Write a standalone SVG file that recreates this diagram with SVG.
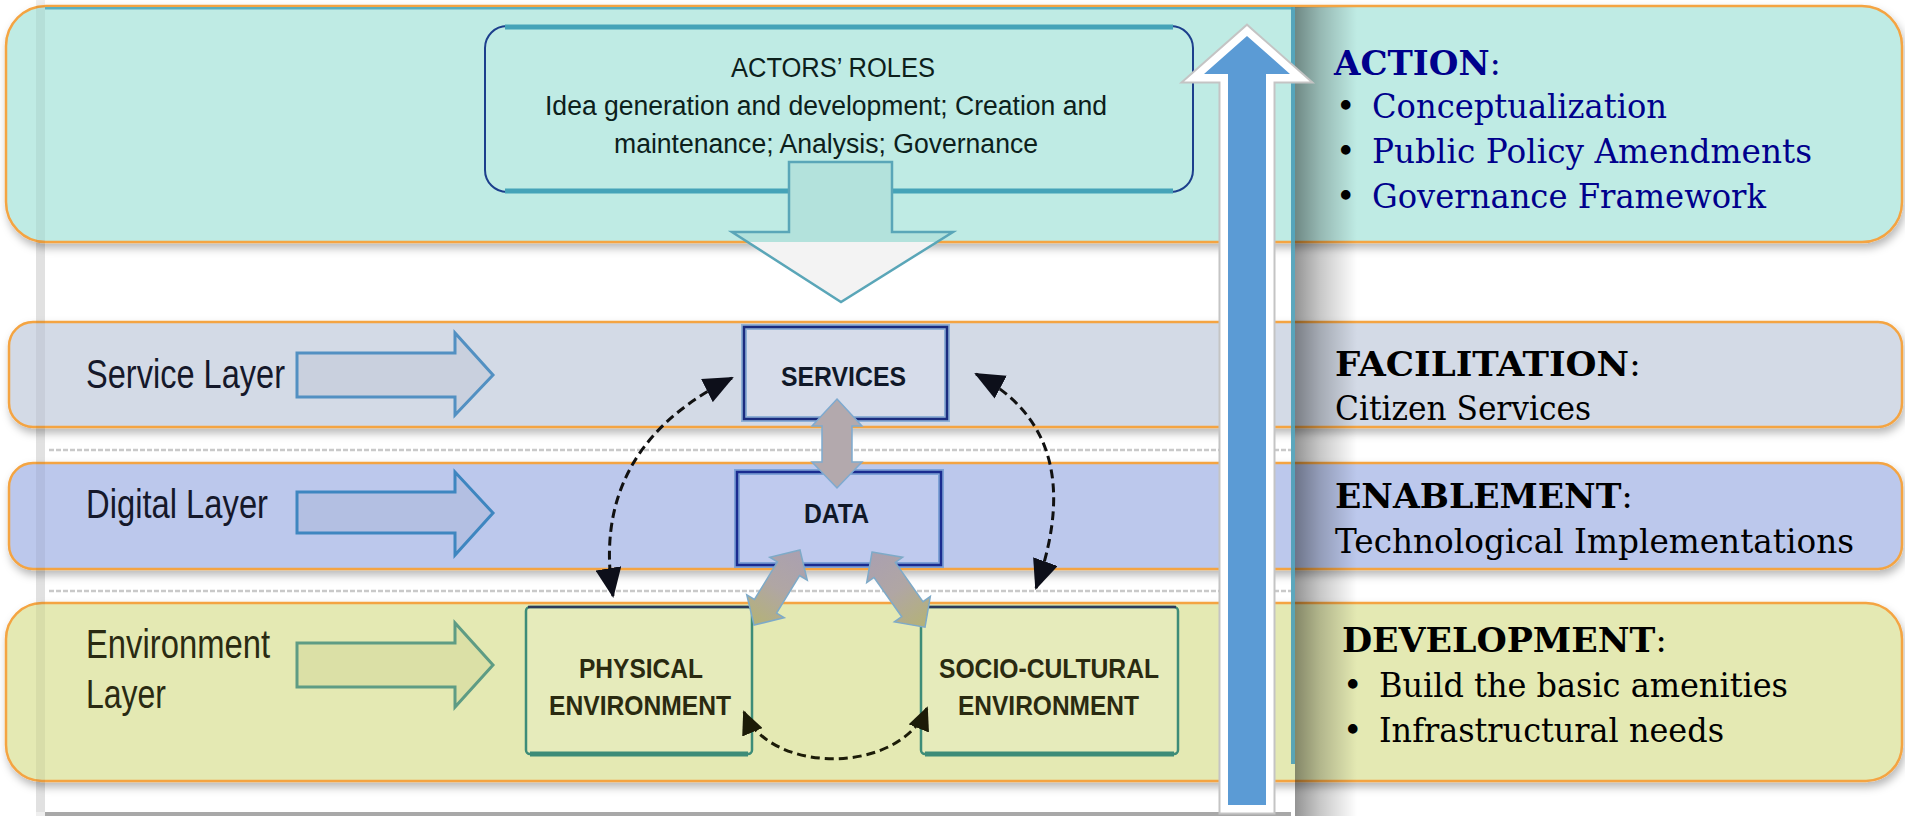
<svg xmlns="http://www.w3.org/2000/svg" width="1905" height="816" viewBox="0 0 1905 816">
<defs>
<style>
.band{stroke:#f4a442;stroke-width:2.5;filter:url(#shadow)}
.lbl{font-family:"Liberation Sans",Arial,sans-serif;font-size:40px;fill:#15182a}
.box{font-family:"Liberation Sans",Arial,sans-serif;font-size:27px;font-weight:bold;fill:#101828}
.act{font-family:"Liberation Sans",Arial,sans-serif;font-size:27px;fill:#0c201b}
.rt{font-family:"DejaVu Serif","Liberation Serif",Georgia,serif;font-size:33px;fill:#000}
.navy{fill:#00008c}
.harrow{stroke-width:3;stroke-linejoin:miter}
.dash{fill:none;stroke:#111;stroke-width:3;stroke-dasharray:9 5}
.sep{stroke:#c9c9c9;stroke-width:2.5;stroke-dasharray:5 2}
</style>
<filter id="shadow" x="-5%" y="-20%" width="110%" height="150%">
<feDropShadow dx="2" dy="5" stdDeviation="4" flood-color="#000" flood-opacity="0.28"/>
</filter>
<linearGradient id="strip" x1="0" y1="0" x2="1" y2="0">
<stop offset="0" stop-color="#000" stop-opacity="0.42"/>
<stop offset="0.4" stop-color="#000" stop-opacity="0.22"/>
<stop offset="1" stop-color="#000" stop-opacity="0"/>
</linearGradient>
<linearGradient id="diag" x1="0" y1="0" x2="1" y2="0">
<stop offset="0" stop-color="#aaa0b0"/>
<stop offset="0.5" stop-color="#b0a6a4"/>
<stop offset="1" stop-color="#b4b276"/>
</linearGradient>
<linearGradient id="downfill" gradientUnits="userSpaceOnUse" x1="0" y1="162" x2="0" y2="302">
<stop offset="0" stop-color="#b3e2dc"/>
<stop offset="0.571" stop-color="#b3e2dc"/>
<stop offset="0.571" stop-color="#f3f3f3"/>
<stop offset="1" stop-color="#f3f3f3"/>
</linearGradient>
<marker id="ah" markerUnits="userSpaceOnUse" markerWidth="30" markerHeight="26" viewBox="0 0 30 26" refX="28" refY="13" orient="auto-start-reverse">
<path d="M0,0 L30,13 L0,26 z" fill="#0d0f1a"/>
</marker>
<marker id="ahs" markerUnits="userSpaceOnUse" markerWidth="24" markerHeight="22" viewBox="0 0 24 22" refX="22" refY="11" orient="auto-start-reverse">
<path d="M0,0 L24,11 L0,22 z" fill="#1c1c08"/>
</marker>
</defs>

<rect width="1905" height="816" fill="#fff"/>

<!-- embedded picture frame -->
<rect x="36" y="0" width="9" height="816" fill="#eeeeee"/>
<rect x="45" y="812" width="1246" height="4" fill="#a8a8a8"/>
<line class="sep" x1="49" y1="450" x2="1291" y2="450"/>
<line class="sep" x1="49" y1="591" x2="1291" y2="591"/>

<!-- bands -->
<g id="band-action"><rect class="band" x="6" y="6" width="1896" height="236" rx="40" fill="#bfebe4"/></g>
<g id="band-service"><rect class="band" x="9" y="322" width="1893" height="105" rx="24" fill="#d3dae6"/></g>
<g id="band-digital"><rect class="band" x="9" y="463" width="1893" height="106" rx="24" fill="#bcc8ec"/></g>
<g id="band-environment"><rect class="band" x="6" y="603" width="1896" height="178" rx="36" fill="#e4e9b3"/></g>

<!-- frame overlays -->
<rect x="36" y="6" width="9" height="806" fill="#000" opacity="0.05"/>
<rect x="45" y="7" width="1248" height="2.5" fill="#5aafc0"/>
<rect x="1291" y="7" width="4" height="757" fill="#4a9db6" opacity="0.9"/>
<rect x="1295" y="7" width="62" height="809" fill="url(#strip)"/>

<!-- layer labels -->
<g id="label-service"><text class="lbl" x="86" y="388" textLength="199" lengthAdjust="spacingAndGlyphs">Service Layer</text>
<path class="harrow" d="M297,353 L455,353 L455,333 L493,375 L455,415 L455,397 L297,397 Z" fill="#c9d0de" stroke="#5290c2"/></g>
<g id="label-digital"><text class="lbl" x="86" y="518" textLength="182" lengthAdjust="spacingAndGlyphs">Digital Layer</text>
<path class="harrow" d="M297,492 L455,492 L455,472 L493,513 L455,555 L455,533 L297,533 Z" fill="#b3bfe2" stroke="#3e86c0"/></g>
<g id="label-environment"><text class="lbl" x="86" y="658" textLength="184" lengthAdjust="spacingAndGlyphs" style="fill:#2a2a12">Environment</text>
<text class="lbl" x="86" y="708" textLength="80" lengthAdjust="spacingAndGlyphs" style="fill:#2a2a12">Layer</text>
<path class="harrow" d="M297,643 L455,643 L455,623 L493,665 L455,707 L455,687 L297,687 Z" fill="#dbe0a6" stroke="#5e9c84"/></g>

<!-- actors box -->
<g id="node-actors">
<rect x="485" y="26" width="708" height="166" rx="22" fill="none" stroke="#1c3f8c" stroke-width="2"/>
<line x1="505" y1="27" x2="1173" y2="27" stroke="#45a3b8" stroke-width="5"/>
<line x1="505" y1="191" x2="1173" y2="191" stroke="#45a3b8" stroke-width="5"/>
<path d="M789,162 L892,162 L892,232 L953,232 L841,302 L732,232 L789,232 Z" fill="url(#downfill)" stroke="#5aa6b8" stroke-width="2.5"/>
<text class="act" x="731" y="77" textLength="204" lengthAdjust="spacingAndGlyphs">ACTORS’ ROLES</text>
<text class="act" x="545" y="115" textLength="562" lengthAdjust="spacingAndGlyphs">Idea generation and development; Creation and</text>
<text class="act" x="614" y="153" textLength="424" lengthAdjust="spacingAndGlyphs">maintenance; Analysis; Governance</text>
</g>

<!-- boxes -->
<g id="node-services">
<rect x="744" y="327" width="203" height="92" fill="#d6dcea" stroke="#8fb0d6" stroke-width="6"/>
<rect x="744" y="327" width="203" height="92" fill="none" stroke="#1a2c80" stroke-width="2.5"/>
<text class="box" x="781" y="386" textLength="125" lengthAdjust="spacingAndGlyphs">SERVICES</text>
</g>
<g id="node-data">
<rect x="737" y="472" width="204" height="93" fill="#bfcaee" stroke="#7fa2d6" stroke-width="6"/>
<rect x="737" y="472" width="204" height="93" fill="none" stroke="#1a2c90" stroke-width="2.5"/>
<text class="box" x="804" y="523" textLength="65" lengthAdjust="spacingAndGlyphs">DATA</text>
</g>
<g id="node-physical">
<rect x="526" y="607" width="226" height="147" rx="4" fill="#e6ebbb" stroke="#3d8c78" stroke-width="2.5"/>
<line x1="528" y1="607" x2="750" y2="607" stroke="#2b3a5a" stroke-width="2.5"/>
<line x1="530" y1="754" x2="748" y2="754" stroke="#3d8c78" stroke-width="5"/>
<text class="box" x="579" y="678" textLength="124" lengthAdjust="spacingAndGlyphs" style="fill:#2a2a10">PHYSICAL</text>
<text class="box" x="549" y="715" textLength="182" lengthAdjust="spacingAndGlyphs" style="fill:#2a2a10">ENVIRONMENT</text>
</g>
<g id="node-socio">
<rect x="921" y="607" width="257" height="147" rx="4" fill="#e6ebbb" stroke="#3d8c78" stroke-width="2.5"/>
<line x1="923" y1="607" x2="1176" y2="607" stroke="#2b3a5a" stroke-width="2.5"/>
<line x1="925" y1="754" x2="1174" y2="754" stroke="#3d8c78" stroke-width="5"/>
<text class="box" x="939" y="678" textLength="220" lengthAdjust="spacingAndGlyphs" style="fill:#2a2a10">SOCIO-CULTURAL</text>
<text class="box" x="958" y="715" textLength="181" lengthAdjust="spacingAndGlyphs" style="fill:#2a2a10">ENVIRONMENT</text>
</g>

<!-- connectors -->
<g id="connectors">
<path d="M837,399 L862,426 L852,426 L852,462 L862,462 L837,488 L812,462 L822,462 L822,426 L812,426 Z" fill="#b3a9ad" stroke="#7eaad0" stroke-width="1.5"/>
<path transform="translate(800,550) rotate(121.5)" d="M0,0 L22,-22 L22,-13 L66,-13 L66,-22 L88,0 L66,22 L66,13 L22,13 L22,22 Z" fill="url(#diag)" stroke="#7eaac8" stroke-width="1.5"/>
<path transform="translate(872,552) rotate(54.8)" d="M0,0 L22,-22 L22,-13 L70,-13 L70,-22 L92,0 L70,22 L70,13 L22,13 L22,22 Z" fill="url(#diag)" stroke="#7eaac8" stroke-width="1.5"/>
<path class="dash" d="M732,378 C668,410 592,470 613,596" marker-start="url(#ah)" marker-end="url(#ah)"/>
<path class="dash" d="M976,374 C1040,408 1078,470 1036,588" marker-start="url(#ah)" marker-end="url(#ah)"/>
<path class="dash" d="M744,712 C770,775 900,775 927,708" style="stroke:#1c1c08" marker-start="url(#ahs)" marker-end="url(#ahs)"/>
</g>

<!-- vertical progression arrow -->
<g id="progress-arrow">
<path d="M1247,36 L1290,74 L1266,74 L1266,805 L1228,805 L1228,74 L1204,74 Z" fill="none" stroke="#c4c4c4" stroke-width="19" stroke-linejoin="miter"/>
<path d="M1247,36 L1290,74 L1266,74 L1266,805 L1228,805 L1228,74 L1204,74 Z" fill="none" stroke="#fff" stroke-width="15" stroke-linejoin="miter"/>
<path d="M1247,36 L1290,74 L1266,74 L1266,805 L1228,805 L1228,74 L1204,74 Z" fill="#5b9bd5"/>
</g>

<!-- right descriptions -->
<g id="text-action">
<text class="rt navy" x="1334" y="75" textLength="167" lengthAdjust="spacingAndGlyphs"><tspan font-weight="bold">ACTION</tspan>:</text>
<text class="rt" x="1336" y="118">•</text><text class="rt navy" x="1372" y="118" textLength="295" lengthAdjust="spacingAndGlyphs">Conceptualization</text>
<text class="rt" x="1336" y="163">•</text><text class="rt navy" x="1372" y="163" textLength="440" lengthAdjust="spacingAndGlyphs">Public Policy Amendments</text>
<text class="rt" x="1336" y="208">•</text><text class="rt navy" x="1372" y="208" textLength="394" lengthAdjust="spacingAndGlyphs">Governance Framework</text>
</g>
<g id="text-facilitation">
<text class="rt" x="1335" y="376" textLength="306" lengthAdjust="spacingAndGlyphs"><tspan font-weight="bold">FACILITATION</tspan>:</text>
<text class="rt" x="1335" y="420" textLength="256" lengthAdjust="spacingAndGlyphs">Citizen Services</text>
</g>
<g id="text-enablement">
<text class="rt" x="1335" y="508" textLength="298" lengthAdjust="spacingAndGlyphs"><tspan font-weight="bold">ENABLEMENT</tspan>:</text>
<text class="rt" x="1335" y="553" textLength="519" lengthAdjust="spacingAndGlyphs">Technological Implementations</text>
</g>
<g id="text-development">
<text class="rt" x="1342" y="652" textLength="325" lengthAdjust="spacingAndGlyphs"><tspan font-weight="bold">DEVELOPMENT</tspan>:</text>
<text class="rt" x="1343" y="697">•</text><text class="rt" x="1379" y="697" textLength="409" lengthAdjust="spacingAndGlyphs">Build the basic amenities</text>
<text class="rt" x="1343" y="742">•</text><text class="rt" x="1379" y="742" textLength="345" lengthAdjust="spacingAndGlyphs">Infrastructural needs</text>
</g>
</svg>
